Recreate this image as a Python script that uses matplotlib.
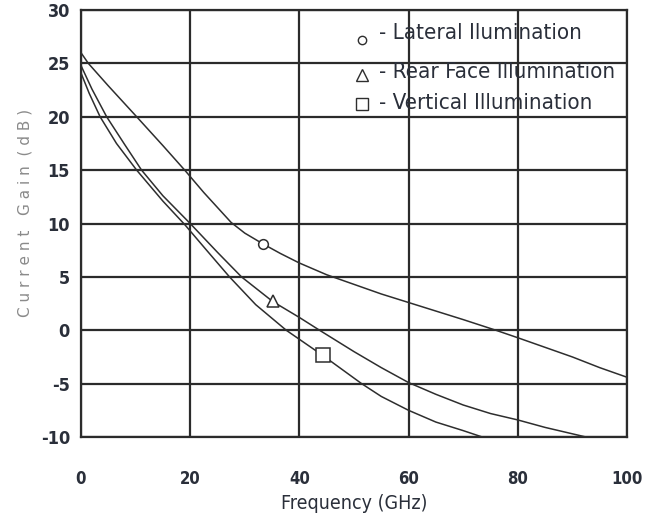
import matplotlib
matplotlib.use("Agg")
import matplotlib.pyplot as plt

plt.rcParams.update({
    "font.family": ["DejaVu Sans"],
})

# values (frequency in GHz, gain in dB)
lat_f = [0, 1.35, 5, 10.2, 15, 19, 20, 22.5, 25, 27.5, 30, 33.3, 36.5, 40, 45, 50, 55, 60, 65, 70, 76, 80, 85, 90, 95, 100]
lat_g = [26.0, 25.0, 22.9, 20.0, 17.3, 15.0, 14.4, 12.9, 11.5, 10.1, 9.1, 8.1, 7.2, 6.3, 5.2, 4.3, 3.4, 2.6, 1.8, 1.0, 0.0, -0.7, -1.6, -2.5, -3.5, -4.4]

rear_f = [0, 2, 4.7, 8, 11.1, 15, 20, 25, 29.4, 35.1, 40, 43.7, 50, 55, 60, 65, 70, 75, 80, 85, 90, 92.5]
rear_g = [24.8, 22.6, 20.0, 17.4, 15.0, 12.6, 10.0, 7.3, 5.0, 2.7, 1.2, 0.0, -2.0, -3.5, -4.9, -6.0, -7.0, -7.8, -8.4, -9.1, -9.7, -10.0]

vert_f = [0, 1.5, 3.5, 6.5, 10.2, 15, 19, 20, 23, 27.2, 32, 37.6, 44.4, 51.4, 55, 60, 65, 70, 73.5]
vert_g = [24.1, 22.2, 20.0, 17.5, 15.0, 12.1, 9.9, 9.3, 7.5, 5.0, 2.4, 0.0, -2.4, -5.0, -6.2, -7.5, -8.6, -9.4, -10.0]

# one marker per curve
mark_f = [33.3, 35.1, 44.4]
mark_g = [8.1, 2.7, -2.3]
mark_shape = ['o', '^', 's']

legend_labels = ["- Lateral Ilumination", "- Rear Face Illumination", "- Vertical Illumination"]

x_ticks = [0, 20, 40, 60, 80, 100]
y_ticks = [-10, -5, 0, 5, 10, 15, 20, 25, 30]

txt_col = '#2a2f3a'
line_col = '#2e2e2e'

fig = plt.figure(figsize=(6.5, 5.22), dpi=100)
ax = fig.add_axes([0.1246, 0.1628, 0.84, 0.818])

ax.set_xlim(0, 100)
ax.set_ylim(-10, 30)

for f, g in [(lat_f, lat_g), (rear_f, rear_g), (vert_f, vert_g)]:
    ax.plot(f, g, color=line_col, lw=1.1, zorder=3)

sizes = [7, 9, 10]
for f, g, m, s in zip(mark_f, mark_g, mark_shape, sizes):
    ax.plot(f, g, marker=m, ms=s, mfc='white', mec=line_col, mew=1.1, ls='none', zorder=4)

ax.set_xticks(x_ticks)
ax.set_yticks(y_ticks)
ax.set_xticklabels([str(v) for v in x_ticks], fontsize=12, color=txt_col,
                   fontweight='bold', fontstretch='condensed')
ax.set_yticklabels([str(v) for v in y_ticks], fontsize=13, color=txt_col,
                   fontweight='bold', fontstretch='condensed')
ax.tick_params(axis='both', length=0)
ax.tick_params(axis='x', pad=24)
ax.tick_params(axis='y', pad=8)
ax.grid(True, color='#2b2b2b', lw=1.6, zorder=1)
for sp in ax.spines.values():
    sp.set_color('#2b2b2b')
    sp.set_linewidth(1.6)

ax.set_xlabel("Frequency (GHz)", fontsize=14, color=txt_col, labelpad=4,
              fontstretch='condensed')

fig.text(0.038, 0.592, "C u r r e n t   G a i n  ( d B )", rotation=90, fontsize=11,
         color='#8a8a8a', ha='center', va='center')

# legend drawn as marker + text inside the axes
leg_y = [27.85, 24.2, 21.3]
leg_mark_y = [27.2, 23.9, 21.2]
for y, my, m, lab, s in zip(leg_y, leg_mark_y, mark_shape, legend_labels, [6, 8, 9]):
    ax.plot(51.4, my, marker=m, ms=s, mfc='white', mec=line_col, mew=1.0, ls='none', zorder=5)
    ax.text(54.5, y, lab, fontsize=16, color=txt_col, ha='left', va='center', zorder=5,
            fontstretch='condensed')

fig.savefig("out.png", dpi=100)
